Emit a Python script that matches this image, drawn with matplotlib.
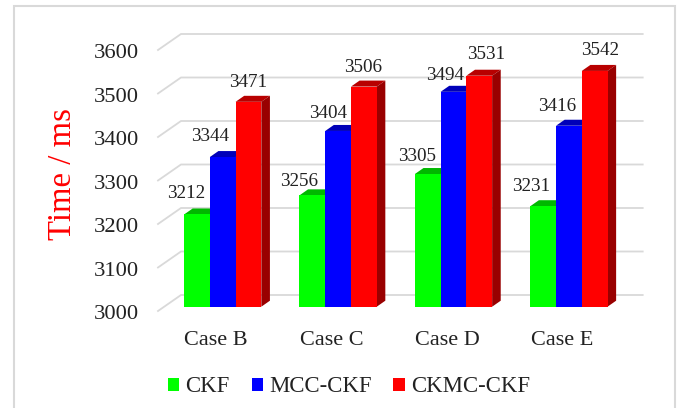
import matplotlib
matplotlib.use("Agg")
import matplotlib.pyplot as plt
from matplotlib.patches import Polygon, Rectangle, Patch
from matplotlib.transforms import ScaledTranslation

plt.rcParams['font.family'] = ['Liberation Serif', 'DejaVu Serif']

# data
cases = ["Case B", "Case C", "Case D", "Case E"]
ckf = [3212, 3256, 3305, 3231]
mcc_ckf = [3344, 3404, 3494, 3416]
ckmc_ckf = [3471, 3506, 3531, 3542]
y_ticks = [3000, 3100, 3200, 3300, 3400, 3500, 3600]

series_names = ["CKF", "MCC-CKF", "CKMC-CKF"]
front_colors = ["#00FF00", "#0000FF", "#FF0000"]
top_colors = ["#00B800", "#0000B8", "#B80000"]
side_colors = ["#009900", "#000099", "#990000"]

# label shift from the top middle of each bar, in pixels (one row per series)
label_shift = [
    [(-11, 21), (-13, 14), (-11, 18), (-12, 20)],
    [(-13, 21), (-10, 17), (-8, 16), (-12, 19)],
    [(0, 19), (-1, 19), (7, 21), (5, 20)],
]

W, H = 683, 408
GROUP_PX = 115.4     # distance between groups
BAR_PX = 25.75       # bar width
PX_PER_100 = 43.5
AX_LEFT, AX_RIGHT, AX_BOTTOM, AX_TOP = 150, 650, 306.7, 20  # pixels from top left
FIRST_CENTER = 222.7

fig = plt.figure(figsize=(W / 100, H / 100), dpi=100, facecolor="white")
ax = fig.add_axes([AX_LEFT / W, 1 - AX_BOTTOM / H, (AX_RIGHT - AX_LEFT) / W, (AX_BOTTOM - AX_TOP) / H])
ax.set_xlim((AX_LEFT - FIRST_CENTER) / GROUP_PX, (AX_RIGHT - FIRST_CENTER) / GROUP_PX)
ax.set_ylim(3000, 3000 + (AX_BOTTOM - AX_TOP) / PX_PER_100 * 100)
ax.patch.set_visible(False)
for s in ax.spines.values():
    s.set_visible(False)

px_x = 1 / GROUP_PX          # one pixel in x data units
px_y = 100 / PX_PER_100      # one pixel in y data units
grid_color = "#D9D9D9"

# back wall and the slanted lines on the left side
for v in y_ticks:
    back = v + 11.7 * px_y
    left_x = ax.get_xlim()[0]
    wall_x = left_x + (181 - AX_LEFT) * px_x
    front_x = left_x + (158 - AX_LEFT) * px_x
    front_y = v - 4.3 * px_y
    ax.plot([front_x, wall_x, left_x + (642.7 - AX_LEFT) * px_x], [front_y, back, back],
            color=grid_color, lw=1.3, clip_on=False, zorder=1, solid_joinstyle="miter")

# 3d bars
depth_x = 8.6 * px_x
depth_y = 6.0 * px_y
bar_w = BAR_PX * px_x
all_series = [ckf, mcc_ckf, ckmc_ckf]
for i, values in enumerate(all_series):
    for j, v in enumerate(values):
        x0 = j + (i - 1.5) * bar_w
        x1 = x0 + bar_w
        ax.add_patch(Polygon([(x0, v), (x1, v), (x1 + depth_x, v + depth_y), (x0 + depth_x, v + depth_y)],
                             facecolor=top_colors[i], edgecolor="none", zorder=2 + i))
        ax.add_patch(Polygon([(x1, 3000), (x1, v), (x1 + depth_x, v + depth_y), (x1 + depth_x, 3000 + depth_y)],
                             facecolor=side_colors[i], edgecolor="none", zorder=2 + i))
        ax.add_patch(Rectangle((x0, 3000), bar_w, v - 3000, facecolor=front_colors[i],
                               edgecolor="none", zorder=3 + i))
        dx, dy = label_shift[i][j]
        ax.annotate(str(v), (x0 + bar_w / 2, v), xytext=(dx, dy), textcoords="offset pixels",
                    ha="center", va="center", fontsize=13.8, color="#222222", zorder=10)

# ticks
ax.set_yticks(y_ticks)
ax.set_yticklabels([str(v) for v in y_ticks])
ax.set_xticks(range(len(cases)))
ax.set_xticklabels(cases)
ax.tick_params(axis="y", length=0, pad=7.9, labelsize=16.2, labelcolor="#222222")
ax.tick_params(axis="x", length=0, pad=17.6, labelsize=16, labelcolor="#222222")
for t in ax.get_yticklabels():
    t.set_transform(t.get_transform() + ScaledTranslation(0, -5.8 / 100, fig.dpi_scale_trans))
for t in ax.get_xticklabels():
    t.set_transform(t.get_transform() + ScaledTranslation(-6.5 / 100, 0, fig.dpi_scale_trans))

fig.text(63 / W, 1 - 174.5 / H, "Time / ms", rotation=90, color="#FF0000", fontsize=23.6,
         ha="center", va="center")

handles = [Patch(facecolor=c, edgecolor="none", label=n) for c, n in zip(front_colors, series_names)]
fig.legend(handles=handles, loc="center", bbox_to_anchor=(349 / W, 1 - 387 / H), ncol=3, frameon=False,
           fontsize=16.4, handlelength=0.5, handleheight=0.5, handletextpad=0.27, columnspacing=0.95,
           labelcolor="#222222")

# outer chart frame
fig.add_artist(Rectangle((14.3 / W, -0.02), (675 - 14.3) / W, 1.02 - 6 / H, transform=fig.transFigure,
                         facecolor="none", edgecolor=grid_color, lw=1.5, zorder=0))

fig.savefig("out.png", dpi=100)
